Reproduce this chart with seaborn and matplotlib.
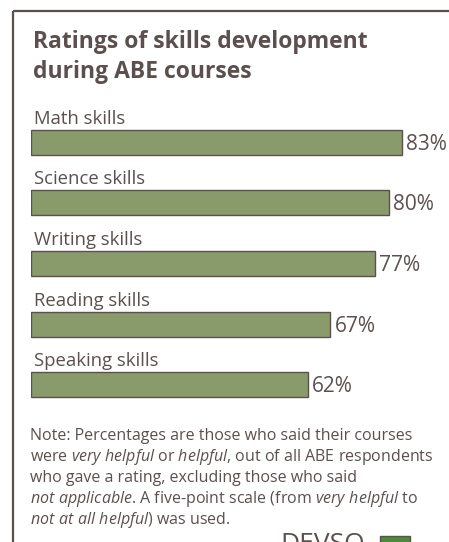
"""Ratings of skills development during ABE courses."""

import matplotlib.pyplot as plt
import seaborn as sns
from matplotlib.lines import Line2D
from matplotlib.patches import Rectangle

skills = ["Math skills", "Science skills", "Writing skills", "Reading skills", "Speaking skills"]
shares = [83, 80, 77, 67, 62]
title_lines = ["Ratings of skills development", "during ABE courses"]
note_lines = [
    "Note: Percentages are those who said their courses",
    r"were $\mathit{very\ helpful}$ or $\mathit{helpful}$, out of all ABE respondents",
    "who gave a rating, excluding those who said",
    r"$\mathit{not\ applicable}$. A five-point scale (from $\mathit{very\ helpful}$ to",
    r"$\mathit{not\ at\ all\ helpful}$) was used.",
]

TEXT = "#5b504e"
BAR = "#8a9b6b"
FONT = "Open Sans"

sns.set_style("white")
plt.rcParams["font.family"] = [FONT, "DejaVu Sans"]
plt.rcParams["mathtext.fontset"] = "custom"
plt.rcParams["mathtext.rm"] = FONT
plt.rcParams["mathtext.it"] = f"{FONT}:italic"

W, H = 449, 542
fig = plt.figure(figsize=(W / 100, H / 100), dpi=100)


def fx(px):
    return px / W


def fy(py):
    return 1 - py / H


# frame (open at the right and bottom, as in the crop)
fig.add_artist(Line2D([fx(12.5), fx(12.5)], [fy(11), 0], color=TEXT, lw=1.6,
                      solid_capstyle="butt"))
fig.add_artist(Line2D([fx(12.5), 1], [fy(11), fy(11)], color=TEXT, lw=1.6,
                      solid_capstyle="butt"))

# title
for k, line in enumerate(title_lines):
    fig.text(fx(33), fy(48 + 30 * k), line, fontsize=16.5, fontweight="bold",
             color=TEXT, va="baseline")

# bars: 4.47 px per percentage point, row pitch 60.5 px
px_per_pct = 4.47
pitch = 60.5
ax = fig.add_axes([fx(31), fy(384.5 + pitch / 2), fx(W - 31), (5 * pitch) / H])
sns.barplot(
    x=shares, y=skills, orient="h", color=BAR, edgecolor=TEXT,
    linewidth=1, width=25 / pitch, saturation=1, ax=ax,
)
ax.set_xlim(0, (W - 31) / px_per_pct)
ax.set_ylim(4.5, -0.5)
ax.set_axis_off()

half = 25 / pitch / 2
for i, (name, val) in enumerate(zip(skills, shares)):
    ax.text(0.7, i - half - 6 / pitch, name, fontsize=13.3, color=TEXT, va="baseline")
    ax.text(val + 4 / px_per_pct, i + 7.5 / pitch, f"{val}%", fontsize=15,
            color=TEXT, va="baseline")

# note
for k, line in enumerate(note_lines):
    fig.text(fx(30), fy(440 + 21 * k), line, fontsize=11.5, color=TEXT, va="baseline")

# logo, cut off at the bottom edge
fig.text(fx(280), fy(532), "DEVSO", fontsize=19, color=TEXT, va="top")
fig.add_artist(Rectangle((fx(380), fy(560)), fx(30), (560 - 536) / H,
                         facecolor="#4d8b3c", edgecolor=TEXT, lw=1))

fig.savefig("out.png", dpi=100)
